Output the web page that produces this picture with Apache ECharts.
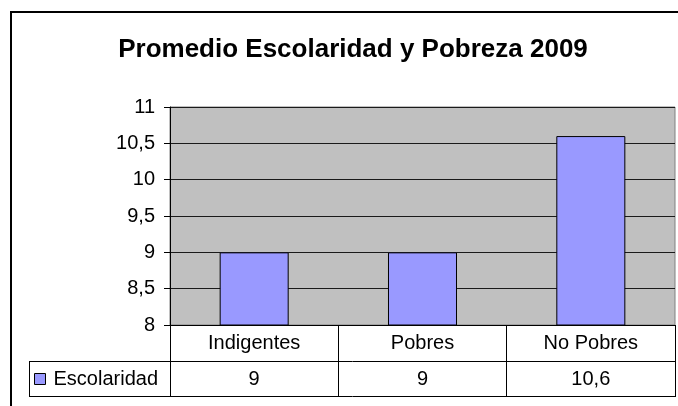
<!DOCTYPE html>
<html>
<head>
<meta charset="utf-8">
<script src="https://cdn.jsdelivr.net/npm/echarts@6/dist/echarts.min.js"></script>
<style>
  html, body { margin: 0; padding: 0; background: #fff; }
  #chart { width: 678px; height: 406px; }
</style>
</head>
<body>
<div id="chart"></div>
<script>
const categories = ['Indigentes', 'Pobres', 'No Pobres'];
const escolaridad = [9, 9, 10.6];
const seriesName = 'Escolaridad';
const titleText = 'Promedio Escolaridad y Pobreza 2009';

// decimal comma, like the original sheet
const fmt = v => String(v).replace('.', ',');

const chart = echarts.init(document.getElementById('chart'));
const font = 'Liberation Sans, Arial, sans-serif';

const option = {
  animation: false,
  textStyle: { fontFamily: font },
  title: {
    text: titleText,
    left: 348,
    top: 32,
    textAlign: 'center',
    textStyle: { fontSize: 26, fontWeight: 'bold', color: '#000', fontFamily: font }
  },
  legend: {
    data: [seriesName],
    left: 34,
    top: 369,
    padding: 0,
    itemWidth: 11,
    itemHeight: 11,
    itemGap: 0,
    icon: 'rect',
    itemStyle: { color: '#9999FF', borderColor: '#000', borderWidth: 1 },
    textStyle: { fontSize: 20, color: '#000', fontFamily: font, padding: [0, 0, 0, 3] }
  },
  grid: {
    left: 170, right: 3, top: 107, bottom: 81,
    show: true,
    backgroundColor: '#C0C0C0',
    borderColor: '#808080',
    borderWidth: 1
  },
  xAxis: [
    {
      type: 'category',
      data: categories,
      position: 'bottom',
      axisLine: { lineStyle: { color: '#000', width: 1 } },
      axisTick: { show: true, length: 71, lineStyle: { color: '#000' } },
      axisLabel: { fontSize: 20, color: '#000', margin: 8, fontFamily: font }
    },
    {
      type: 'category',
      data: categories,
      position: 'bottom',
      offset: 36,
      axisLine: { show: false },
      axisTick: { show: false },
      axisLabel: {
        fontSize: 20, color: '#000', margin: 8, fontFamily: font,
        formatter: (v, i) => fmt(escolaridad[i])
      }
    }
  ],
  yAxis: {
    type: 'value',
    min: 8,
    max: 11,
    interval: 0.5,
    axisLine: { show: true, lineStyle: { color: '#000' } },
    axisTick: { show: true, length: 6, lineStyle: { color: '#000' } },
    axisLabel: { fontSize: 20, color: '#000', margin: 15, formatter: fmt, fontFamily: font },
    splitLine: { lineStyle: { color: '#1a1a1a', width: 1 } }
  },
  series: [{
    name: seriesName,
    type: 'bar',
    xAxisIndex: 0,
    data: escolaridad,
    barWidth: '41%',
    itemStyle: { color: '#9999FF', borderColor: '#000', borderWidth: 1 }
  }],
  graphic: [
    // outer chart frame (runs off the right and bottom like the screenshot)
    { type: 'rect', shape: { x: 11, y: 12, width: 720, height: 440 },
      style: { fill: 'none', stroke: '#000', lineWidth: 2 }, silent: true },
    // data table rows under the legend column
    { type: 'line', shape: { x1: 29, y1: 361.5, x2: 676, y2: 361.5 },
      style: { stroke: '#000', lineWidth: 1 } },
    { type: 'line', shape: { x1: 29, y1: 396.5, x2: 676, y2: 396.5 },
      style: { stroke: '#000', lineWidth: 1 } },
    { type: 'line', shape: { x1: 29.5, y1: 361, x2: 29.5, y2: 397 },
      style: { stroke: '#000', lineWidth: 1 } }
  ]
};

chart.setOption(option);
</script>
</body>
</html>
